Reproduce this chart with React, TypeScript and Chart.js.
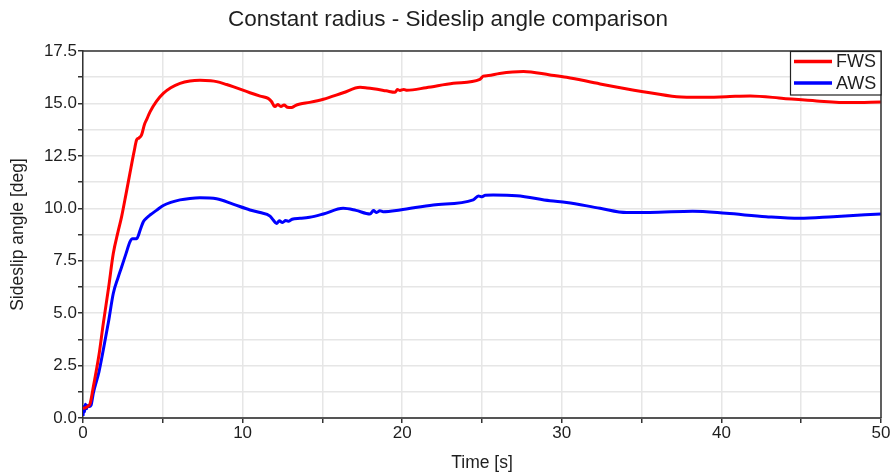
import { useEffect, useRef } from "react";
import { Chart, registerables } from "chart.js";

Chart.register(...registerables);

const TITLE = "Constant radius - Sideslip angle comparison";
const X_TITLE = "Time [s]";
const Y_TITLE = "Sideslip angle [deg]";

const seriesLabels = ["FWS", "AWS"];
const seriesColors = ["#ff0000", "#0000ff"];

// Front-wheel steering run
const fwsTime = [
  0, 0.3, 0.45, 0.65, 1.0, 1.27, 1.6, 1.9, 2.2, 2.42, 2.7, 2.94, 3.2, 3.36, 3.5, 3.67, 3.85, 4.0, 4.2, 4.6,
  5.03, 5.5, 6.08, 6.7, 7.33, 8.0, 8.37, 9.0, 9.4, 10.46, 11.1, 11.6, 11.82, 11.95, 12.03, 12.2, 12.4, 12.6,
  12.8, 13.07, 13.3, 13.6, 14.2, 15.06, 16.3, 17.36, 17.8, 18.2, 19.0, 19.55, 19.7, 19.86, 20.1, 20.3, 21.5,
  23.2, 24.87, 25.08, 25.4, 26.1, 27.6, 29.26, 30.3, 32.4, 35.1, 37.2, 38.7, 40.3, 41.8, 43.9, 45.97, 48.06, 50,
];
const fwsAngle = [
  0.45, 0.55, 0.7, 1.5, 3.0, 4.5, 6.2, 7.85, 8.9, 9.6, 10.7, 11.67, 12.7, 13.26, 13.35, 13.5, 14.0, 14.25, 14.6, 15.1,
  15.48, 15.75, 15.96, 16.07, 16.1, 16.08, 16.04, 15.9, 15.8, 15.51, 15.35, 15.24, 15.08, 14.9, 14.85, 14.95, 14.85, 14.92,
  14.82, 14.8, 14.9, 14.97, 15.05, 15.2, 15.51, 15.77, 15.74, 15.7, 15.6, 15.53, 15.66, 15.62, 15.67, 15.63, 15.75,
  15.96, 16.15, 16.3, 16.33, 16.43, 16.52, 16.36, 16.25, 15.93, 15.56, 15.32, 15.29, 15.32, 15.36, 15.24, 15.12, 15.04, 15.07,
];

// All-wheel steering run
const awsTime = [
  0, 0.05, 0.1, 0.15, 0.22, 0.3, 0.4, 0.5, 0.65, 1.0, 1.27, 1.6, 1.9, 2.2, 2.42, 2.7, 2.94, 3.1, 3.36, 3.6, 3.78,
  4.0, 4.2, 4.6, 5.03, 5.5, 6.08, 6.7, 7.33, 8.37, 9.4, 10.46, 11.1, 11.72, 11.92, 12.13, 12.3, 12.5, 12.7, 12.9,
  13.1, 13.6, 14.2, 15.06, 16.3, 17.1, 17.98, 18.2, 18.4, 18.6, 18.8, 19.86, 21.95, 24.45, 24.77, 25.0, 25.2, 25.7,
  27.17, 29.26, 30.3, 32.4, 34.06, 35.5, 38.2, 40.3, 42.8, 44.9, 47.0, 50,
];
const awsAngle = [
  0.1, 0.55, 0.3, 0.65, 0.45, 0.6, 0.55, 0.6, 1.2, 2.2, 3.24, 4.6, 5.95, 6.7, 7.2, 7.85, 8.4, 8.55, 8.55, 9.0, 9.36,
  9.55, 9.68, 9.9, 10.13, 10.28, 10.4, 10.47, 10.5, 10.45, 10.2, 9.92, 9.8, 9.63, 9.44, 9.28, 9.4, 9.32, 9.42, 9.38,
  9.48, 9.52, 9.57, 9.73, 10.0, 9.9, 9.73, 9.89, 9.8, 9.88, 9.84, 9.92, 10.16, 10.4, 10.59, 10.55, 10.62, 10.63,
  10.6, 10.36, 10.28, 10.0, 9.8, 9.8, 9.86, 9.76, 9.6, 9.52, 9.6, 9.73,
];

const FONT = "'Liberation Sans', Arial, Helvetica, sans-serif";
const TEXT = "#1e1e1e";

const toPoints = (xs: number[], ys: number[]) => xs.map((x, i) => ({ x, y: ys[i] }));

// Chart heading, centred on the page width
const heading = {
  id: "heading",
  afterDraw(chart: any) {
    const { ctx, width } = chart;
    ctx.save();
    ctx.font = `22.5px ${FONT}`;
    ctx.fillStyle = TEXT;
    ctx.textAlign = "center";
    ctx.textBaseline = "middle";
    ctx.fillText(TITLE, width / 2 + 1.5, 19.5);
    ctx.restore();
  },
};

// Closes the plot box on the top and right sides
const frame = {
  id: "frame",
  afterDatasetsDraw(chart: any) {
    const { ctx, chartArea: a } = chart;
    ctx.save();
    ctx.strokeStyle = "#333";
    ctx.lineWidth = 1.5;
    ctx.beginPath();
    ctx.moveTo(a.left, a.top);
    ctx.lineTo(a.right, a.top);
    ctx.lineTo(a.right, a.bottom);
    ctx.stroke();
    ctx.restore();
  },
};

// Boxed legend in the upper-right corner of the plot
const boxedLegend = {
  id: "boxedLegend",
  afterDraw(chart: any) {
    const { ctx, chartArea: a } = chart;
    const sets = chart.data.datasets;
    const w = 91;
    const rowH = 21.5;
    const h = rowH * sets.length + 0.5;
    const x0 = a.right - w;
    const y0 = a.top;
    ctx.save();
    ctx.fillStyle = "#fff";
    ctx.fillRect(x0, y0, w, h);
    ctx.strokeStyle = "#222";
    ctx.lineWidth = 1.2;
    ctx.strokeRect(x0 + 0.5, y0 + 0.5, w - 0.5, h);
    ctx.font = `18px ${FONT}`;
    ctx.textBaseline = "middle";
    ctx.textAlign = "left";
    sets.forEach((ds: any, i: number) => {
      const cy = y0 + 10.5 + i * rowH;
      ctx.strokeStyle = ds.borderColor;
      ctx.lineWidth = 3.5;
      ctx.beginPath();
      ctx.moveTo(x0 + 4, cy);
      ctx.lineTo(x0 + 42, cy);
      ctx.stroke();
      ctx.fillStyle = TEXT;
      ctx.fillText(ds.label, x0 + 46, cy + 1);
    });
    ctx.restore();
  },
};

export default function App() {
  const ref = useRef<HTMLCanvasElement>(null);

  useEffect(() => {
    if (!ref.current) return;
    const chart = new Chart(ref.current, {
      type: "line",
      data: {
        datasets: [
          {
            label: seriesLabels[0],
            data: toPoints(fwsTime, fwsAngle),
            borderColor: seriesColors[0],
            borderWidth: 3,
            pointRadius: 0,
            cubicInterpolationMode: "monotone",
          },
          {
            label: seriesLabels[1],
            data: toPoints(awsTime, awsAngle),
            borderColor: seriesColors[1],
            borderWidth: 3,
            pointRadius: 0,
            cubicInterpolationMode: "monotone",
          },
        ],
      },
      options: {
        animation: false,
        responsive: false,
        devicePixelRatio: 1,
        layout: { padding: { left: 0, right: 12, top: 51, bottom: 0 } },
        plugins: {
          legend: { display: false },
          tooltip: { enabled: false },
          title: { display: false },
        },
        scales: {
          x: {
            type: "linear",
            min: 0,
            max: 50,
            ticks: {
              stepSize: 5,
              autoSkip: false,
              maxRotation: 0,
              padding: 0,
              color: TEXT,
              font: { family: FONT, size: 17 },
              callback: (v: any) => (Number(v) % 10 === 0 ? String(v) : ""),
            },
            grid: { color: "#e6e6e6", lineWidth: 1.5, tickColor: "#333", tickLength: 5 },
            border: { color: "#555", width: 2 },
            title: {
              display: true,
              text: X_TITLE,
              color: TEXT,
              font: { family: FONT, size: 17.5 },
              padding: { top: 0, bottom: 2.5 },
            },
            afterFit: (s: any) => {
              s.height = 58;
            },
          },
          y: {
            type: "linear",
            min: 0,
            max: 17.5,
            ticks: {
              stepSize: 1.25,
              autoSkip: false,
              padding: 1,
              color: TEXT,
              font: { family: FONT, size: 17 },
              callback: (v: any) => {
                const n = Number(v) / 2.5;
                return Math.abs(n - Math.round(n)) < 1e-6 ? Number(v).toFixed(1) : "";
              },
            },
            grid: { color: "#e6e6e6", lineWidth: 1.5, tickColor: "#333", tickLength: 5 },
            border: { color: "#333", width: 1.5 },
            title: {
              display: true,
              text: Y_TITLE,
              color: TEXT,
              font: { family: FONT, size: 17.5 },
              padding: { top: 7.5, bottom: 0 },
            },
            afterFit: (s: any) => {
              s.width = 83;
            },
          },
        },
      },
      plugins: [heading, frame, boxedLegend],
    });
    return () => chart.destroy();
  }, []);

  return (
    <div style={{ position: "fixed", left: 0, top: 0, width: 893, height: 476, background: "#fff" }}>
      <canvas ref={ref} width={893} height={476} />
    </div>
  );
}
